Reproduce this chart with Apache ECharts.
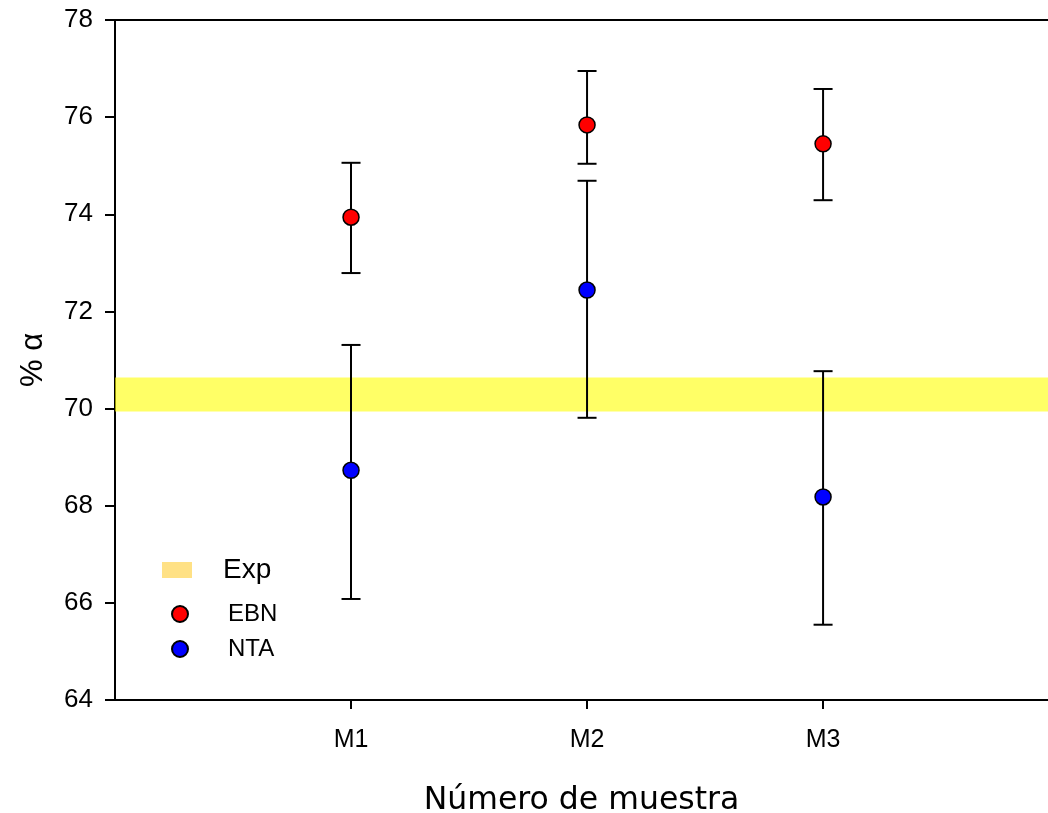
<!DOCTYPE html>
<html>
<head>
<meta charset="utf-8">
<script src="https://cdn.jsdelivr.net/npm/echarts@6/dist/echarts.min.js"></script>
<style>html,body{margin:0;padding:0;background:#fff}#c{width:1048px;height:813px}</style>
</head>
<body>
<div id="c"></div>
<script>
var categories = ['M1', 'M2', 'M3'];
var categoryPos = [1, 2, 3];
var ebnMean = [73.94, 75.84, 75.45];
var ebnLow = [72.79, 75.04, 74.29];
var ebnHigh = [75.06, 76.95, 76.58];
var ntaMean = [68.73, 72.44, 68.18];
var ntaLow = [66.08, 69.81, 65.55];
var ntaHigh = [71.31, 74.69, 70.77];
var expRange = [69.94, 70.64];
var yTicks = [64, 66, 68, 70, 72, 74, 76, 78];

var font = '"Liberation Sans", Arial, sans-serif';

function pts(mean) { return categoryPos.map(function (x, i) { return [x, mean[i]]; }); }
function errs(low, high) { return categoryPos.map(function (x, i) { return [x, low[i], high[i]]; }); }

function errRender(params, api) {
  var x = api.value(0);
  var lo = api.coord([x, api.value(1)]);
  var hi = api.coord([x, api.value(2)]);
  var hw = 9.5;
  var st = { stroke: '#000', lineWidth: 2 };
  return {
    type: 'group',
    children: [
      { type: 'line', shape: { x1: lo[0], y1: lo[1], x2: hi[0], y2: hi[1] }, style: st },
      { type: 'line', shape: { x1: lo[0] - hw, y1: lo[1], x2: lo[0] + hw, y2: lo[1] }, style: st },
      { type: 'line', shape: { x1: hi[0] - hw, y1: hi[1], x2: hi[0] + hw, y2: hi[1] }, style: st }
    ]
  };
}

var chart = echarts.init(document.getElementById('c'), null, { renderer: 'canvas' });
chart.setOption({
  animation: false,
  backgroundColor: '#fff',
  grid: { left: 115, right: 0, top: 20, bottom: 113, outerBoundsMode: 'none', containLabel: false },
  legend: [
    {
      left: 162, top: 556, orient: 'vertical', padding: 0,
      data: [{ name: 'Exp', icon: 'rect', itemStyle: { color: '#FFD966', borderWidth: 0 } }],
      itemWidth: 30, itemHeight: 16,
      textStyle: { fontFamily: font, fontSize: 28, lineHeight: 28, color: '#000', padding: [0, 0, 0, 26] },
      selectedMode: false
    },
    {
      left: 171, top: 602, orient: 'vertical', padding: 0,
      data: [{ name: 'EBN', icon: 'circle' }, { name: 'NTA', icon: 'circle' }],
      itemWidth: 16, itemHeight: 16, itemGap: 11,
      textStyle: { fontFamily: font, fontSize: 24, lineHeight: 24, color: '#000', padding: [0, 0, 0, 35] },
      selectedMode: false
    }
  ],
  xAxis: [
    {
      type: 'value', min: 0, max: 3.953, interval: 1,
      name: 'Número de muestra', nameLocation: 'middle', nameGap: 85,
      nameTextStyle: { fontFamily: '"DejaVu Sans", Verdana, sans-serif', fontSize: 31.5, color: '#000' },
      axisLine: { show: true, lineStyle: { color: '#000', width: 2 } },
      axisTick: { show: true, inside: false, length: 9, lineStyle: { color: '#000', width: 2 }, customValues: categoryPos },
      axisLabel: {
        fontFamily: font, fontSize: 25, color: '#000', margin: 28,
        customValues: categoryPos,
        formatter: function (v) { var i = categoryPos.indexOf(v); return i >= 0 ? categories[i] : ''; }
      },
      splitLine: { show: false }
    },
    {
      type: 'value', min: 0, max: 3.953, position: 'top',
      axisLine: { show: true, onZero: false, lineStyle: { color: '#000', width: 2 } },
      axisTick: { show: false }, axisLabel: { show: false }, splitLine: { show: false }
    }
  ],
  yAxis: {
    type: 'value', min: 64, max: 78, interval: 2,
    name: '% α', nameLocation: 'middle', nameGap: 66, nameRotate: 90,
    nameTextStyle: { fontFamily: font, fontSize: 31, color: '#000' },
    axisLine: { show: true, lineStyle: { color: '#000', width: 2 } },
    axisTick: { show: true, inside: false, length: 10, lineStyle: { color: '#000', width: 2 } },
    axisLabel: { fontFamily: font, fontSize: 26, color: '#000', margin: 22,
      formatter: function (v) { return yTicks.indexOf(v) >= 0 ? String(v) : ''; } },
    splitLine: { show: false }
  },
  series: [
    {
      name: 'EBN err', type: 'custom', renderItem: errRender, z: 2,
      data: errs(ebnLow, ebnHigh), encode: { x: 0, y: [1, 2] }, silent: true
    },
    {
      name: 'NTA err', type: 'custom', renderItem: errRender, z: 2,
      data: errs(ntaLow, ntaHigh), encode: { x: 0, y: [1, 2] }, silent: true
    },
    {
      name: 'Exp', type: 'scatter', data: [], z: 3,
      itemStyle: { color: '#FFD966' },
      markArea: {
        silent: true,
        itemStyle: { color: 'rgba(255,255,0,0.6)', borderWidth: 0 },
        data: [[{ yAxis: expRange[0] }, { yAxis: expRange[1] }]]
      }
    },
    {
      name: 'EBN', type: 'scatter', data: pts(ebnMean), z: 4,
      symbol: 'circle', symbolSize: 16,
      itemStyle: { color: '#FF0000', borderColor: '#000', borderWidth: 1.5, opacity: 1 }
    },
    {
      name: 'NTA', type: 'scatter', data: pts(ntaMean), z: 4,
      symbol: 'circle', symbolSize: 16,
      itemStyle: { color: '#0000FF', borderColor: '#000', borderWidth: 1.5, opacity: 1 }
    }
  ]
});
</script>
</body>
</html>
